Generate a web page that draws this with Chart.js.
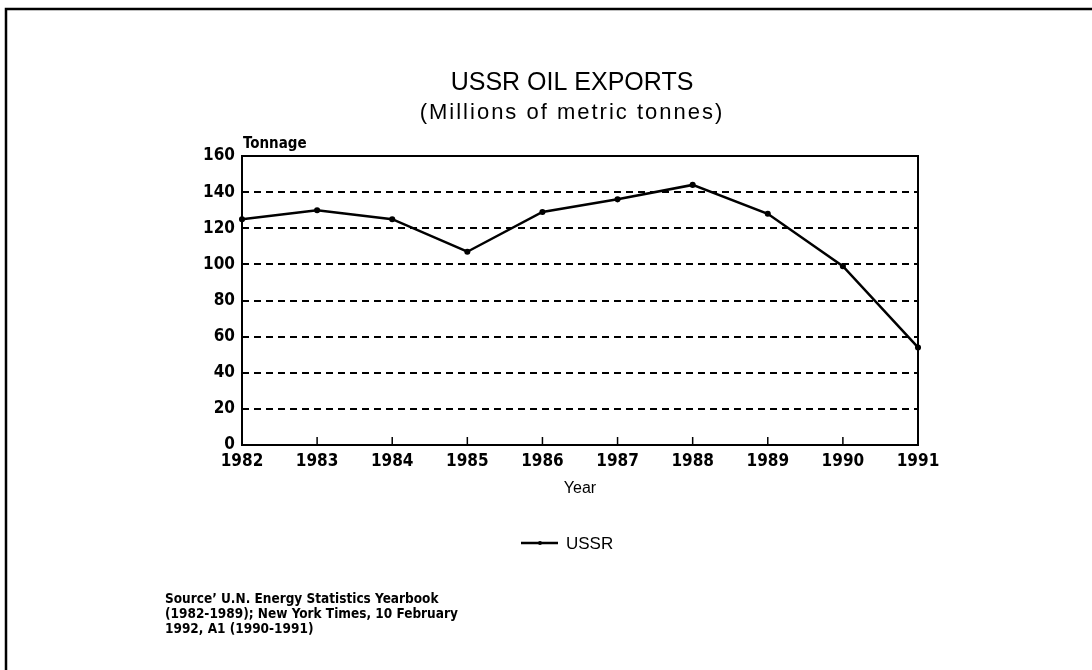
<!DOCTYPE html>
<html><head><meta charset="utf-8">
<script src="https://cdn.jsdelivr.net/npm/chart.js@4"></script>
<style>html,body{margin:0;padding:0;background:#fff}#wrap{width:1092px;height:670px}</style>
</head><body><div id="wrap"><canvas id="c" width="1092" height="670"></canvas></div>
<script>
const years = ['1982','1983','1984','1985','1986','1987','1988','1989','1990','1991'];
const ussrExports = [125, 130, 125, 107, 129, 136, 144, 128, 99, 54];
const yTicks = [0, 20, 40, 60, 80, 100, 120, 140, 160];
const titleText = 'USSR OIL EXPORTS';
const subtitleText = '(Millions of metric tonnes)';
const yAxisLabel = 'Tonnage';
const xAxisLabel = 'Year';
const seriesLabel = 'USSR';
const sourceLines = ['Source\u2019 U.N. Energy Statistics Yearbook', '(1982-1989); New York Times, 10 February', '1992, A1 (1990-1991)'];

const NARROW = "'Liberation Sans Narrow','DejaVu Sans Condensed','Liberation Sans',sans-serif";
const REG = "'Liberation Sans','DejaVu Sans',sans-serif";

const decor = {
  id: 'decor',
  beforeDraw(chart) {
    const ctx = chart.ctx;
    ctx.save();
    ctx.fillStyle = '#fff';
    ctx.fillRect(0, 0, chart.width, chart.height);
    ctx.restore();
  },
  afterDatasetsDraw(chart) {
    const ctx = chart.ctx, a = chart.chartArea, xs = chart.scales.x;
    ctx.save();
    ctx.strokeStyle = '#000';
    ctx.lineWidth = 2;
    ctx.strokeRect(a.left, a.top, a.right - a.left, a.bottom - a.top);
    ctx.lineWidth = 1.5;
    years.forEach((y, i) => {
      const px = xs.getPixelForValue(i);
      ctx.beginPath(); ctx.moveTo(px, a.bottom); ctx.lineTo(px, a.bottom - 8); ctx.stroke();
    });
    ctx.lineWidth = 2.5;
    ctx.beginPath(); ctx.moveTo(6, 670); ctx.lineTo(6, 9); ctx.lineTo(1092, 9); ctx.stroke();
    ctx.fillStyle = '#000';
    ctx.textAlign = 'center'; ctx.textBaseline = 'alphabetic';
    ctx.font = "25px " + REG;
    ctx.fillText(titleText, 572, 90);
    ctx.font = "22px " + REG;
    if ('letterSpacing' in ctx) ctx.letterSpacing = '2px';
    ctx.fillText(subtitleText, 572, 119);
    if ('letterSpacing' in ctx) ctx.letterSpacing = '0px';
    ctx.textAlign = 'left';
    ctx.font = "bold 15px " + NARROW;
    ctx.fillText(yAxisLabel, 243, 148);
    const ly = 543;
    ctx.lineWidth = 2.5;
    ctx.beginPath(); ctx.moveTo(521, ly); ctx.lineTo(558, ly); ctx.stroke();
    ctx.beginPath(); ctx.arc(540, ly, 2, 0, Math.PI * 2); ctx.fill();
    ctx.font = "17px " + REG;
    ctx.textBaseline = 'middle';
    ctx.fillText(chart.data.datasets[0].label, 566, ly + 1);
    ctx.textBaseline = 'alphabetic';
    ctx.font = "bold 13.5px " + NARROW;
    sourceLines.forEach((s, i) => ctx.fillText(s, 165, 603 + i * 15));
    ctx.restore();
  }
};

new Chart(document.getElementById('c'), {
  type: 'line',
  data: {
    labels: years,
    datasets: [{
      label: seriesLabel,
      data: ussrExports,
      borderColor: '#000',
      backgroundColor: '#000',
      borderWidth: 2.5,
      pointRadius: 1.8,
      pointHoverRadius: 1.8,
      tension: 0,
      fill: false,
      clip: false
    }]
  },
  options: {
    responsive: false,
    animation: false,
    events: [],
    layout: { padding: { left: 0, top: 156, right: 174, bottom: 168 } },
    plugins: { legend: { display: false }, title: { display: false }, tooltip: { enabled: false } },
    scales: {
      x: {
        offset: false,
        grid: { display: false, drawTicks: false },
        border: { display: false },
        ticks: { color: '#000', font: { family: NARROW, size: 17, weight: 'bold' }, padding: 6, maxRotation: 0, autoSkip: false },
        title: { display: true, text: xAxisLabel, color: '#000', font: { family: REG, size: 16 }, padding: { top: 0 } },
        afterFit(s) { s.height = 57; }
      },
      y: {
        min: 0, max: 160,
        afterBuildTicks(s) { s.ticks = yTicks.map(v => ({ value: v })); },
        grid: { color: '#000', lineWidth: 2, drawTicks: false },
        border: { display: false, dash: [7, 5] },
        ticks: { color: '#000', font: { family: NARROW, size: 17, weight: 'bold' }, padding: 7 },
        afterFit(s) { s.width = 242; }
      }
    }
  },
  plugins: [decor]
});
</script>
</body></html>
